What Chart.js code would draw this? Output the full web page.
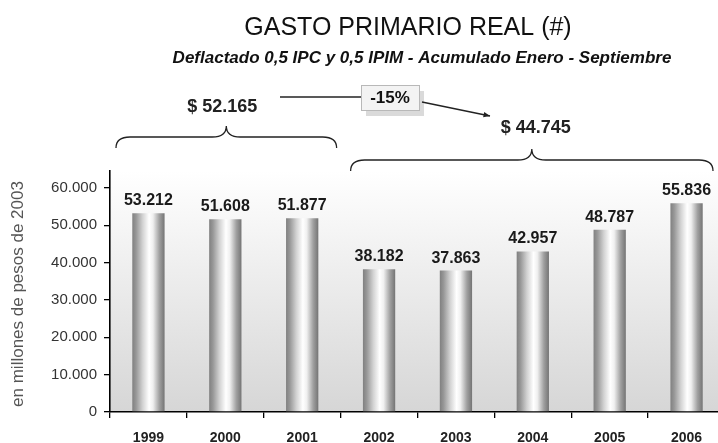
<!DOCTYPE html>
<html>
<head>
<meta charset="utf-8">
<script src="https://cdn.jsdelivr.net/npm/chart.js@4.4.1/dist/chart.umd.min.js"></script>
<style>
    html, body { margin: 0; padding: 0; background: #fff; overflow: hidden; }
    #wrap { width: 725px; height: 443px; }
</style>
</head>
<body>
<div id="wrap"><canvas id="myChart" width="725" height="443"></canvas></div>
<script>
const years = ['1999', '2000', '2001', '2002', '2003', '2004', '2005', '2006'];
const gasto = [53212, 51608, 51877, 38182, 37863, 42957, 48787, 55836];
const yTicks = [0, 10000, 20000, 30000, 40000, 50000, 60000];

// period averages shown over the braces
const groupLabels = ['$ 52.165', '$ 44.745'];
const groupFirst = [0, 3];
const groupLast = [2, 7];
const changeLabel = '-15%';

const FONT = 'Liberation Sans, Arial, sans-serif';

function fmt(v) {
    return String(v).replace(/\B(?=(\d{3})+(?!\d))/g, '.');
}

function barFill(ctx) {
    const chart = ctx.chart;
    const xs = chart.scales.x;
    if (!xs || ctx.dataIndex === undefined) return '#bbb';
    const cx = xs.getPixelForValue(ctx.dataIndex);
    const half = (xs.width / years.length) * 0.42 / 2;
    if (!Number.isFinite(cx) || !Number.isFinite(half) || half <= 0) return '#bbb';
    const g = chart.ctx.createLinearGradient(cx - half, 0, cx + half, 0);
    g.addColorStop(0, '#808080');
    g.addColorStop(0.12, '#989898');
    g.addColorStop(0.32, '#d2d2d2');
    g.addColorStop(0.52, '#ffffff');
    g.addColorStop(0.64, '#f0f0f0');
    g.addColorStop(0.84, '#a0a0a0');
    g.addColorStop(1, '#747474');
    return g;
}

const backdrop = {
    id: 'backdrop',
    beforeDraw(chart) {
        const { ctx, chartArea: a } = chart;
        ctx.save();
        ctx.fillStyle = '#fff';
        ctx.fillRect(0, 0, chart.width, chart.height);
        const g = ctx.createLinearGradient(0, a.top, 0, a.bottom);
        g.addColorStop(0, '#ffffff');
        g.addColorStop(1, '#d6d6d6');
        ctx.fillStyle = g;
        ctx.fillRect(a.left, a.top, a.right - a.left, a.bottom - a.top);
        ctx.restore();
    }
};

const valueLabels = {
    id: 'valueLabels',
    afterDatasetsDraw(chart) {
        const ctx = chart.ctx;
        const meta = chart.getDatasetMeta(0);
        ctx.save();
        ctx.font = 'bold 16px ' + FONT;
        ctx.fillStyle = '#1a1a1a';
        ctx.textAlign = 'center';
        ctx.textBaseline = 'alphabetic';
        meta.data.forEach((bar, i) => {
            ctx.fillText(fmt(gasto[i]), bar.x, bar.y - 8);
        });
        ctx.restore();
    }
};

function brace(ctx, x1, x2, y, h, r) {
    const tip = (x1 + x2) / 2;
    ctx.beginPath();
    ctx.moveTo(x1, y + h);
    ctx.quadraticCurveTo(x1, y, x1 + r, y);
    ctx.lineTo(tip - r, y);
    ctx.quadraticCurveTo(tip, y, tip, y - h);
    ctx.quadraticCurveTo(tip, y, tip + r, y);
    ctx.lineTo(x2 - r, y);
    ctx.quadraticCurveTo(x2, y, x2, y + h);
    ctx.stroke();
    return tip;
}

const notes = {
    id: 'notes',
    afterDraw(chart) {
        const ctx = chart.ctx;
        const xs = chart.scales.x;
        const cw = xs.width / years.length;
        ctx.save();

        // titles
        ctx.fillStyle = '#111';
        ctx.textAlign = 'center';
        ctx.textBaseline = 'middle';
        ctx.font = '25px ' + FONT;
        ctx.fillText('GASTO PRIMARIO REAL (#)', 408, 28);
        ctx.font = 'italic bold 17px ' + FONT;
        ctx.fillText('Deflactado 0,5 IPC y 0,5 IPIM - Acumulado Enero - Septiembre', 422, 58);

        // y axis title
        ctx.save();
        ctx.translate(18, 294);
        ctx.rotate(-Math.PI / 2);
        ctx.font = '17px ' + FONT;
        ctx.fillStyle = '#555';
        ctx.fillText('en millones de pesos de 2003', 0, 0);
        ctx.restore();

        // braces
        ctx.strokeStyle = '#222';
        ctx.lineWidth = 1.3;
        const braceY = [137, 160];
        const padL = [6, 10];
        const padR = [4, 12];
        const tips = [];
        for (let k = 0; k < 2; k++) {
            const x1 = xs.getPixelForValue(groupFirst[k]) - cw / 2 + padL[k];
            const x2 = xs.getPixelForValue(groupLast[k]) + cw / 2 - padR[k];
            tips.push(brace(ctx, x1, x2, braceY[k], 11, 14));
        }

        ctx.font = 'bold 18px ' + FONT;
        ctx.fillStyle = '#222';
        ctx.fillText(groupLabels[0], tips[0] - 4, 107);
        ctx.fillText(groupLabels[1], tips[1] + 4, 128);

        // change box
        const bx = 361, by = 85, bw = 58, bh = 25;
        ctx.fillStyle = '#dadada';
        ctx.fillRect(bx + 5, by + 6, bw, bh);
        ctx.fillStyle = '#f3f3f3';
        ctx.fillRect(bx, by, bw, bh);
        ctx.strokeStyle = '#b8b8b8';
        ctx.lineWidth = 1;
        ctx.strokeRect(bx + 0.5, by + 0.5, bw, bh);
        ctx.fillStyle = '#111';
        ctx.font = 'bold 17px ' + FONT;
        ctx.fillText(changeLabel, bx + bw / 2, by + bh / 2 + 1);

        // connector and arrow
        ctx.strokeStyle = '#222';
        ctx.lineWidth = 1.3;
        ctx.beginPath();
        ctx.moveTo(280, 97);
        ctx.lineTo(bx, 97);
        ctx.stroke();
        const ax1 = bx + bw + 3, ay1 = 102, ax2 = 490, ay2 = 116;
        ctx.beginPath();
        ctx.moveTo(ax1, ay1);
        ctx.lineTo(ax2, ay2);
        ctx.stroke();
        const ang = Math.atan2(ay2 - ay1, ax2 - ax1);
        ctx.fillStyle = '#222';
        ctx.beginPath();
        ctx.moveTo(ax2, ay2);
        ctx.lineTo(ax2 - 7 * Math.cos(ang - 0.4), ay2 - 7 * Math.sin(ang - 0.4));
        ctx.lineTo(ax2 - 7 * Math.cos(ang + 0.4), ay2 - 7 * Math.sin(ang + 0.4));
        ctx.closePath();
        ctx.fill();

        ctx.restore();
    }
};

const data = {
    labels: years,
    datasets: [{
        data: gasto,
        backgroundColor: barFill,
        borderWidth: 0,
        categoryPercentage: 1,
        barPercentage: 0.42
    }]
};

const config = {
    type: 'bar',
    data: data,
    options: {
        responsive: false,
        animation: false,
        devicePixelRatio: 1,
        layout: { padding: { top: 171, right: 0, left: 0, bottom: 0 } },
        plugins: {
            legend: { display: false },
            title: { display: false },
            tooltip: { enabled: false }
        },
        scales: {
            x: {
                grid: { drawOnChartArea: false, drawTicks: true, tickLength: 6, color: '#000', lineWidth: 1.3 },
                border: { display: true, color: '#000', width: 1.6 },
                ticks: { font: { family: FONT, size: 14, weight: 'bold' }, color: '#222', padding: 12 },
                afterFit: s => { s.height = 31; }
            },
            y: {
                min: 0,
                max: 64500,
                afterBuildTicks: s => { s.ticks = yTicks.map(v => ({ value: v })); },
                grid: { drawOnChartArea: false, drawTicks: true, tickLength: 6, color: '#000', lineWidth: 1.3 },
                border: { display: true, color: '#000', width: 1.6 },
                ticks: {
                    font: { family: FONT, size: 15 },
                    color: '#333',
                    padding: 7,
                    callback: v => fmt(v)
                },
                afterFit: s => { s.width = 110; }
            }
        }
    },
    plugins: [backdrop, valueLabels, notes]
};

const myChart = new Chart(document.getElementById('myChart'), config);
</script>
</body>
</html>
